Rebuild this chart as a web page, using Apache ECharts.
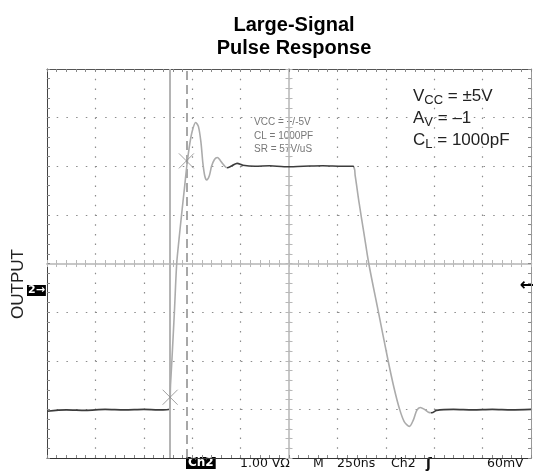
<!DOCTYPE html>
<html>
<head>
<meta charset="utf-8">
<script src="https://cdn.jsdelivr.net/npm/echarts@6/dist/echarts.min.js"></script>
<style>
  html, body { margin: 0; padding: 0; background: #fff; }
  #chart { width: 533px; height: 472px; }
</style>
</head>
<body>
<div id="chart"></div>
<script>
// trace read from the scope shot, time in ns (250ns/div, 0 = screen centre), output in divisions
const timeNs = [
  -1250, -1150, -1050, -950, -850, -750, -675, -618, -612, -605, -592, -580,
  -568, -555, -540, -528, -515, -500, -482, -468, -455, -445, -435, -425,
  -412, -400, -385, -370, -355, -340, -320, -295, -268, -238, -175, -100,
  -25, 75, 175, 275, 332, 342, 362, 388, 412, 462, 512, 542,
  570, 595, 622, 642, 660, 678, 700, 720, 738, 762, 850, 950,
  1050, 1150, 1250
];
const outputDiv = [
  -3.04, -3.01, -3.02, -3.0, -3.01, -3.0, -3.01, -3.0, -2.5, -2.0, -1.0, 0.0,
  0.5, 1.0, 1.55, 2.0, 2.4, 2.72, 2.9, 2.82, 2.5, 2.07, 1.8, 1.72,
  1.8, 2.0, 2.14, 2.18, 2.12, 2.04, 1.97, 2.01, 2.06, 2.02, 2.0, 2.01,
  1.99, 2.0, 2.01, 2.0, 2.0, 1.8, 1.25, 0.6, 0.0, -1.0, -2.0, -2.55,
  -2.98, -3.25, -3.35, -3.22, -3.02, -2.96, -3.0, -3.06, -3.07, -3.02, -3.0, -3.01,
  -3.0, -3.01, -3.0
];
// cursor positions and the two cursor cross marks
const cursorTimes = [-615, -528];
const crossTimes = [-614, -530];
const crossLevels = [-2.75, 2.11];

const dark = '#3c3c3c';
const light = '#ababab';

const trace = timeNs.map((t, i) => [t, outputDiv[i]]);
const crosses = crossTimes.map((t, i) => [t, crossLevels[i]]);

const dotted = { color: '#8c8c8c', width: 1.2, type: [1.5, 8.2] };

function edgeX(pos, showSplit) {
  return {
    type: 'value', min: -1250, max: 1250, interval: 250, position: pos,
    axisLine: { onZero: false, lineStyle: { color: pos === 'bottom' ? '#333' : '#555', width: 1 } },
    axisTick: { show: true, inside: true, length: 3, lineStyle: { color: '#888' } },
    minorTick: { show: true, splitNumber: 5, length: 3, lineStyle: { color: '#888' } },
    axisLabel: { show: false },
    splitLine: { show: showSplit, lineStyle: dotted }
  };
}
function edgeY(pos, showSplit) {
  return {
    type: 'value', min: -4, max: 4, interval: 1, position: pos,
    axisLine: { onZero: false, lineStyle: { color: pos === 'left' ? '#444' : '#999', width: 1 } },
    axisTick: { show: true, inside: true, length: 3, lineStyle: { color: '#888' } },
    minorTick: { show: true, splitNumber: 5, length: 3, lineStyle: { color: '#888' } },
    axisLabel: { show: false },
    splitLine: { show: showSplit, lineStyle: dotted }
  };
}
// centre graticule lines, ticks on both sides via two axes
function centreX(inside) {
  return {
    type: 'value', min: -1250, max: 1250, interval: 250, position: 'bottom',
    axisLine: { onZero: true, onZeroAxisIndex: 0, lineStyle: { color: '#c4c4c4', width: 1.5 } },
    axisTick: { show: true, inside: inside, length: 3.5, lineStyle: { color: '#b8b8b8' } },
    minorTick: { show: true, splitNumber: 5, length: 3.5, lineStyle: { color: '#b8b8b8' } },
    axisLabel: { show: false }, splitLine: { show: false }
  };
}
function centreY(inside) {
  return {
    type: 'value', min: -4, max: 4, interval: 1, position: 'left',
    axisLine: { onZero: true, onZeroAxisIndex: 0, lineStyle: { color: '#c4c4c4', width: 1.5 } },
    axisTick: { show: true, inside: inside, length: 3.5, lineStyle: { color: '#b8b8b8' } },
    minorTick: { show: true, splitNumber: 5, length: 3.5, lineStyle: { color: '#b8b8b8' } },
    axisLabel: { show: false }, splitLine: { show: false }
  };
}

const chart = echarts.init(document.getElementById('chart'));
const font = '"Liberation Sans", Arial, sans-serif';
const scopeFont = '12.5px "DejaVu Sans", sans-serif';

chart.setOption({
  animation: false,
  backgroundColor: '#fff',
  title: {
    text: 'Large-Signal\nPulse Response',
    left: 289, top: 9, textAlign: 'center',
    textStyle: { fontFamily: font, fontSize: 20, fontWeight: 'bold', lineHeight: 23, color: '#000' }
  },
  grid: { left: 47, right: 2, top: 69, bottom: 14 },
  xAxis: [edgeX('bottom', true), edgeX('top', false), centreX(true), centreX(false)],
  yAxis: [edgeY('left', true), edgeY('right', false), centreY(true), centreY(false)],
  visualMap: {
    show: false, type: 'piecewise', dimension: 0, seriesIndex: 0,
    pieces: [
      { lt: -618, color: dark },
      { gte: -618, lt: -320, color: light },
      { gte: -320, lt: 335, color: dark },
      { gte: 335, lt: 735, color: light },
      { gte: 735, color: dark }
    ]
  },
  series: [
    {
      type: 'line', data: trace, showSymbol: false, smooth: 0.3, z: 5,
      lineStyle: { width: 1.6 }
    },
    {
      type: 'line', data: [], z: 4,
      markLine: {
        silent: true, symbol: 'none', label: { show: false },
        data: [
          { xAxis: cursorTimes[0], lineStyle: { color: '#b4b4b4', width: 2, type: 'solid' } },
          { xAxis: cursorTimes[1], lineStyle: { color: '#8a8a8a', width: 1.5, type: [9, 5] } }
        ]
      }
    },
    {
      type: 'scatter', data: crosses, z: 6,
      symbol: 'path://M0,0L10,10M10,0L0,10', symbolSize: 15,
      itemStyle: { color: 'transparent', borderColor: '#8a8a8a', borderWidth: 1 }
    }
  ],
  graphic: [
    {
      type: 'text', x: 413, y: 85,
      style: {
        text: '{v|V}{s|CC}{v| = ±5V}\n{v|A}{s|V}{v| = –1}\n{v|C}{s|L}{v| = 1000pF}',
        rich: {
          v: { fontFamily: font, fontSize: 17, lineHeight: 22, fill: '#222' },
          s: { fontFamily: font, fontSize: 13, lineHeight: 12, verticalAlign: 'bottom', fill: '#222' }
        }
      }
    },
    { type: 'text', x: 254, y: 122, style: { text: 'VCC = +/-5V', font: '10px ' + font, fill: '#777', textVerticalAlign: 'middle' } },
    { type: 'text', x: 254, y: 136, style: { text: 'CL = 1000PF', font: '10px ' + font, fill: '#777', textVerticalAlign: 'middle' } },
    { type: 'text', x: 254, y: 149, style: { text: 'SR = 57V/uS', font: '10px ' + font, fill: '#777', textVerticalAlign: 'middle' } },
    {
      type: 'text', x: 18, y: 284, rotation: Math.PI / 2,
      style: { text: 'OUTPUT', font: '17px ' + font, fill: '#222', textAlign: 'center', textVerticalAlign: 'middle' }
    },
    {
      type: 'text', x: 27, y: 285,
      style: { text: '2→', font: 'bold 11px "DejaVu Sans", sans-serif', fill: '#fff', backgroundColor: '#000', padding: [0, 1, 0, 1] }
    },
    { type: 'text', x: 534, y: 286, style: { text: '←', font: 'bold 17px "DejaVu Sans", sans-serif', fill: '#000', textAlign: 'right', textVerticalAlign: 'middle' } },
    {
      type: 'text', x: 186, y: 457,
      style: { text: 'Ch2', font: 'bold 12px "DejaVu Sans", sans-serif', fill: '#fff', backgroundColor: '#000', padding: [0, 2, 0, 2] }
    },
    { type: 'text', x: 240, y: 464, style: { text: '1.00 VΩ', font: scopeFont, fill: '#111', textVerticalAlign: 'middle' } },
    { type: 'text', x: 313, y: 464, style: { text: 'M', font: scopeFont, fill: '#111', textVerticalAlign: 'middle' } },
    { type: 'text', x: 337, y: 464, style: { text: '250ns', font: scopeFont, fill: '#111', textVerticalAlign: 'middle' } },
    { type: 'text', x: 391, y: 464, style: { text: 'Ch2', font: scopeFont, fill: '#111', textVerticalAlign: 'middle' } },
    { type: 'text', x: 426, y: 464, style: { text: 'ʃ', font: 'bold 14px "DejaVu Sans", sans-serif', fill: '#111', textVerticalAlign: 'middle' } },
    { type: 'text', x: 487, y: 464, style: { text: '60mV', font: scopeFont, fill: '#111', textVerticalAlign: 'middle' } }
  ]
});
</script>
</body>
</html>
